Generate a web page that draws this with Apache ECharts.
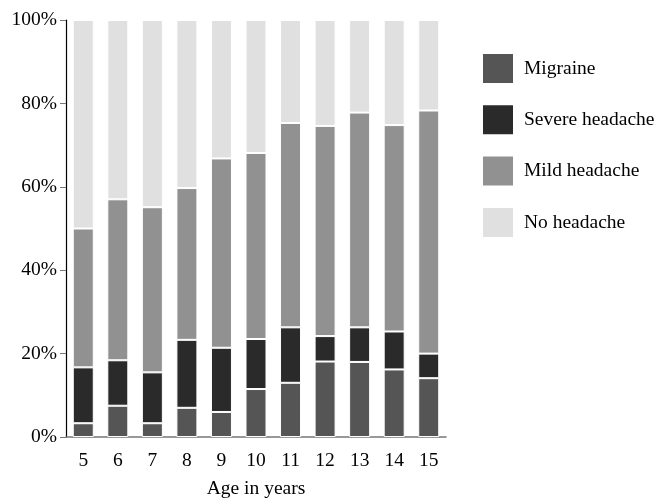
<!DOCTYPE html>
<html>
<head>
<meta charset="utf-8">
<script src="https://cdn.jsdelivr.net/npm/echarts@6/dist/echarts.min.js"></script>
<style>html,body{margin:0;padding:0;background:#fff;}#c{width:660px;height:498px;}</style>
</head>
<body>
<div id="c"></div>
<script>
var ages = ['5','6','7','8','9','10','11','12','13','14','15'];
var migraine = [3.3, 7.5, 3.3, 7.0, 6.0, 11.5, 13.0, 18.1, 18.0, 16.2, 14.1];
var severe   = [13.4, 10.9, 12.2, 16.3, 15.4, 12.0, 13.3, 6.1, 8.3, 9.1, 5.9];
var mild     = [33.3, 38.6, 39.6, 36.4, 45.4, 44.6, 49.0, 50.4, 51.5, 49.5, 58.3];
var none     = [50.0, 43.0, 44.9, 40.3, 33.2, 31.9, 24.7, 25.4, 22.2, 25.2, 21.7];
var seriesNames = ['Migraine', 'Severe headache', 'Mild headache', 'No headache'];
var yTicks = [0, 20, 40, 60, 80, 100];

var colors = ['#555555', '#2a2a2a', '#919191', '#e0e0e0'];
var font = '"Liberation Serif", "Times New Roman", serif';
var dataSets = [migraine, severe, mild, none];

var chart = echarts.init(document.getElementById('c'));
chart.setOption({
  animation: false,
  textStyle: { fontFamily: font },
  grid: { left: 66, right: 214, top: 20, bottom: 61, outerBoundsMode: 'none', containLabel: false },
  legend: {
    data: seriesNames,
    orient: 'vertical',
    left: 476,
    top: 47,
    itemWidth: 32,
    itemHeight: 31,
    itemGap: 18.3,
    icon: 'rect',
    textStyle: { fontFamily: font, fontSize: 19.5, color: '#000', padding: [0, 0, 0, 5] }
  },
  xAxis: {
    type: 'category',
    data: ages,
    name: 'Age in years',
    nameLocation: 'middle',
    nameGap: 42,
    nameTextStyle: { fontFamily: font, fontSize: 19.5, color: '#000' },
    axisLine: { lineStyle: { color: '#777', width: 1.5 } },
    axisTick: { alignWithLabel: true, length: 5, lineStyle: { color: '#777' } },
    axisLabel: { fontFamily: font, fontSize: 19.5, color: '#000', margin: 14 }
  },
  yAxis: {
    type: 'value',
    min: yTicks[0],
    max: yTicks[yTicks.length - 1],
    interval: yTicks[1] - yTicks[0],
    splitLine: { show: false },
    axisLine: { show: true, lineStyle: { color: '#000', width: 1.2 } },
    axisTick: { show: true, length: 6, lineStyle: { color: '#777' } },
    axisLabel: { fontFamily: font, fontSize: 19.5, color: '#000', margin: 9, formatter: '{value}%' }
  },
  series: seriesNames.map(function (n, i) {
    return {
      name: n,
      type: 'bar',
      stack: 'total',
      barWidth: 21,
      data: dataSets[i],
      itemStyle: { color: colors[i], borderColor: '#fff', borderWidth: 1 }
    };
  })
});
</script>
</body>
</html>
